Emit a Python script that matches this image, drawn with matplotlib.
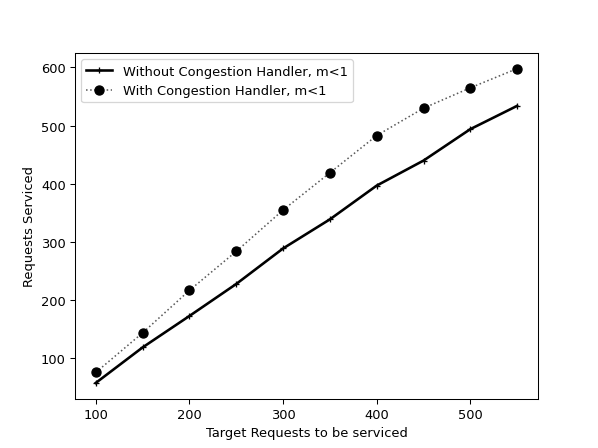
import matplotlib
matplotlib.use("Agg")
import matplotlib.pyplot as plt

targets = [100, 150, 200, 250, 300, 350, 400, 450, 500, 550]
without_handler = [58, 119, 173, 228, 289, 339, 397, 440, 494, 534]
with_handler = [76, 144, 217, 284, 355, 419, 483, 530, 565, 598]

fig, ax = plt.subplots(figsize=(6.4, 4.805), dpi=93.44)

ax.plot(targets, without_handler, 'k-', marker='+', linewidth=2,
        markersize=5, label="Without Congestion Handler, m<1")
ax.plot(targets, with_handler, ':', color='0.35', marker='o', linewidth=1.2,
        markersize=7, markerfacecolor='k', markeredgecolor='k',
        label="With Congestion Handler, m<1")

ax.set_xlabel("Target Requests to be serviced")
ax.set_ylabel("Requests Serviced")
ax.set_xticks([100, 200, 300, 400, 500])
ax.set_yticks([100, 200, 300, 400, 500, 600])
ax.legend(loc="upper left")

fig.savefig("out.png")
